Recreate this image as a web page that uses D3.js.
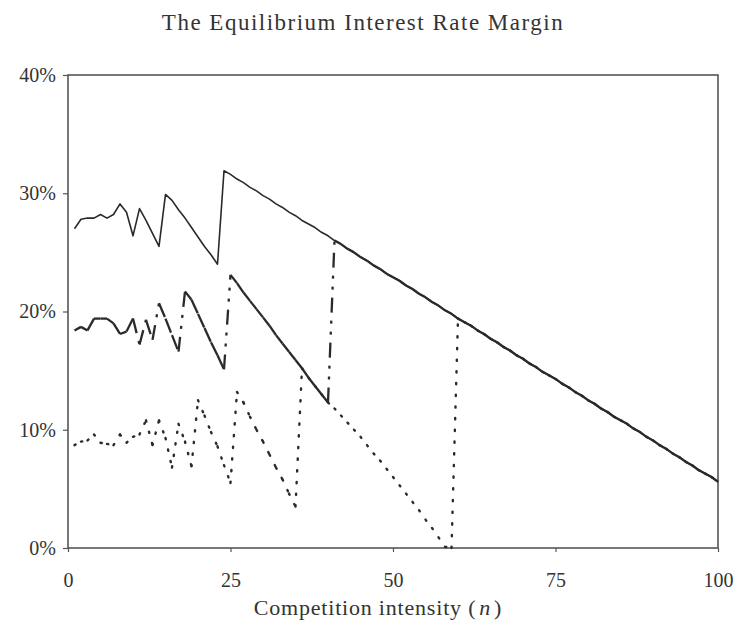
<!DOCTYPE html>
<html>
<head>
<meta charset="utf-8">
<script src="https://cdn.jsdelivr.net/npm/d3@7"></script>
<style>
  html, body { margin: 0; padding: 0; background: #fff; }
  svg { display: block; }
</style>
</head>
<body>
<svg id="chart" width="738" height="626"></svg>
<script>
// ---------- data ----------
const nValues = [1,2,3,4,5,6,7,8,9,10,11,12,13,14,15,16,17,18,19,20,
  21,22,23,24,25,26,27,28,29,30,31,32,33,34,35,36,37,38,39,40,
  41,42,43,44,45,46,47,48,49,50,51,52,53,54,55,56,57,58,59,60,
  61,62,63,64,65,66,67,68,69,70,71,72,73,74,75,76,77,78,79,80,
  81,82,83,84,85,86,87,88,89,90,91,92,93,94,95,96,97,98,99,100];

// upper (solid) series, in %
const marginUpper = [27.0,27.8,27.9,27.9,28.2,27.9,28.2,29.1,28.4,26.4,
  28.7,27.7,26.6,25.5,29.9,29.4,28.6,27.9,27.1,26.3,
  25.5,24.8,24.0,31.9,31.6,31.2,30.9,30.5,30.2,29.8,
  29.5,29.1,28.8,28.4,28.1,27.7,27.4,27.1,26.7,26.4,
  26.0,25.7,25.3,25.0,24.6,24.3,23.9,23.6,23.2,22.9,
  22.6,22.2,21.9,21.5,21.2,20.8,20.5,20.1,19.8,19.4,
  19.1,18.8,18.4,18.1,17.7,17.4,17.0,16.7,16.3,16.0,
  15.6,15.3,14.9,14.6,14.3,13.9,13.6,13.2,12.9,12.5,
  12.2,11.8,11.5,11.1,10.8,10.5,10.1,9.8,9.4,9.1,
  8.7,8.4,8.0,7.7,7.3,7.0,6.6,6.3,6.0,5.6];

// middle (dash-dot-dot) series, in %
const marginMiddle = [18.4,18.7,18.4,19.4,19.4,19.4,19.0,18.1,18.3,19.4,
  17.2,19.3,17.6,20.7,19.4,18.0,16.6,21.7,21.0,19.8,
  18.6,17.4,16.3,15.1,23.1,22.4,21.6,20.9,20.2,19.5,
  18.8,18.0,17.3,16.6,15.9,15.2,14.4,13.7,13.0,12.3,
  26.0,25.7,25.3,25.0,24.6,24.3,23.9,23.6,23.2,22.9,
  22.6,22.2,21.9,21.5,21.2,20.8,20.5,20.1,19.8,19.4,
  19.1,18.8,18.4,18.1,17.7,17.4,17.0,16.7,16.3,16.0,
  15.6,15.3,14.9,14.6,14.3,13.9,13.6,13.2,12.9,12.5,
  12.2,11.8,11.5,11.1,10.8,10.5,10.1,9.8,9.4,9.1,
  8.7,8.4,8.0,7.7,7.3,7.0,6.6,6.3,6.0,5.6];

// lower (dotted) series, in %
const marginLower = [8.7,9.0,9.1,9.6,8.9,8.8,8.7,9.6,8.9,9.4,
  9.6,10.8,8.7,10.8,9.3,6.8,10.5,9.0,6.9,12.5,
  11.2,9.8,8.6,7.0,5.5,13.2,12.3,11.1,10.0,9.0,
  7.9,6.8,5.8,4.6,3.5,15.2,14.4,13.7,13.0,12.3,
  11.8,11.2,10.6,10.0,9.4,8.7,8.0,7.4,6.7,6.0,
  5.3,4.6,3.9,3.2,2.4,1.7,0.9,0.1,0.0,19.4,
  19.1,18.8,18.4,18.1,17.7,17.4,17.0,16.7,16.3,16.0,
  15.6,15.3,14.9,14.6,14.3,13.9,13.6,13.2,12.9,12.5,
  12.2,11.8,11.5,11.1,10.8,10.5,10.1,9.8,9.4,9.1,
  8.7,8.4,8.0,7.7,7.3,7.0,6.6,6.3,6.0,5.6];

const xTicks = [0, 25, 50, 75, 100];
const xTickLabels = ["0", "25", "50", "75", "100"];
const yTicks = [0, 10, 20, 30, 40];
const yTickLabels = ["0%", "10%", "20%", "30%", "40%"];

const titleText = "The Equilibrium Interest Rate Margin";
const xLabelText = "Competition intensity";

// ---------- layout ----------
const svg = d3.select("#chart");
const plot = { left: 68, right: 718, top: 75, bottom: 548 };
const font = "'Liberation Serif', 'Times New Roman', serif";
const ink = "#2a2a2a";

const x = d3.scaleLinear().domain([0, 100]).range([plot.left, plot.right]);
const y = d3.scaleLinear().domain([0, 40]).range([plot.bottom, plot.top]);

// title
svg.append("text")
  .attr("x", 363).attr("y", 30)
  .attr("text-anchor", "middle")
  .attr("font-family", font).attr("font-size", 23)
  .attr("letter-spacing", 1.5)
  .attr("fill", "#333")
  .text(titleText);

// axes
const yAxis = d3.axisLeft(y).tickValues(yTicks)
  .tickFormat((d, i) => yTickLabels[i]).tickSize(5).tickPadding(7);
const gy = svg.append("g").attr("transform", `translate(${plot.left},0)`).call(yAxis);

const xAxis = d3.axisBottom(x).tickValues(xTicks)
  .tickFormat((d, i) => xTickLabels[i]).tickSize(4).tickPadding(21);
const gx = svg.append("g").attr("transform", `translate(0,${plot.bottom})`).call(xAxis);

[gx, gy].forEach(g => {
  g.select(".domain").remove();
  g.selectAll(".tick line").attr("stroke", "#555").attr("stroke-width", 1.2);
  g.selectAll(".tick text").attr("font-family", font).attr("font-size", 20).attr("fill", "#333");
});

// frame
svg.append("rect")
  .attr("x", plot.left).attr("y", plot.top)
  .attr("width", plot.right - plot.left).attr("height", plot.bottom - plot.top)
  .attr("fill", "none").attr("stroke", "#555").attr("stroke-width", 1.6);

// x label
const xl = svg.append("text")
  .attr("x", 378).attr("y", 615)
  .attr("text-anchor", "middle")
  .attr("font-family", font).attr("font-size", 22)
  .attr("letter-spacing", 0.8)
  .attr("fill", "#333");
xl.append("tspan").text(xLabelText + " (");
xl.append("tspan").attr("font-style", "italic").attr("dx", 3).text("n");
xl.append("tspan").attr("dx", 3).text(")");

// ---------- series ----------
const line = d3.line().x(d => x(d[0])).y(d => y(d[1]));

function pairs(vals) {
  return nValues.map((n, i) => [n, vals[i]]);
}

const gLines = svg.append("g").attr("fill", "none").attr("stroke", ink);

// upper: continuous solid
gLines.append("path")
  .attr("d", line(pairs(marginUpper)))
  .attr("stroke-width", 1.6)
  .attr("stroke-linejoin", "round");

// dashed series: the dash pattern restarts on every segment (as in the original)
function segmented(vals, dash, width, cap) {
  const pts = pairs(vals);
  const segs = d3.pairs(pts);
  gLines.append("g").selectAll("path").data(segs).join("path")
    .attr("d", d => line(d))
    .attr("stroke-width", width)
    .attr("stroke-linecap", cap)
    .attr("stroke-dasharray", dash);
}

segmented(marginMiddle, "15,8,3,8,3,8", 2.3, "butt");
segmented(marginLower, "1.3,10.4", 2.4, "round");
</script>
</body>
</html>
